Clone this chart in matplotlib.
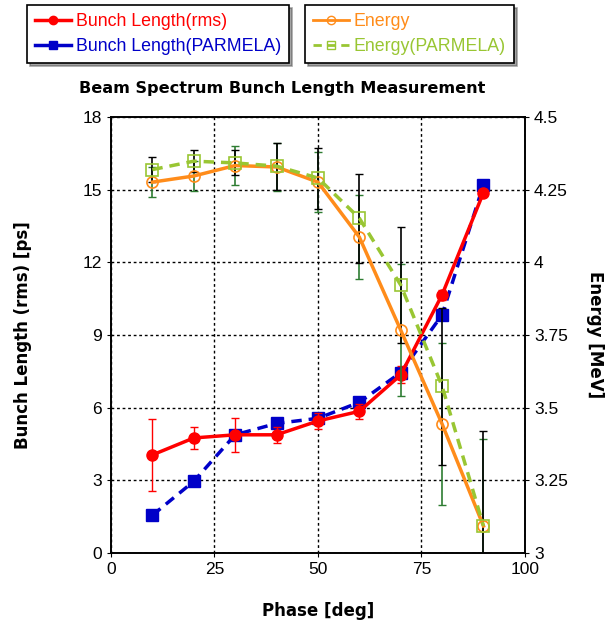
import numpy as np
import matplotlib
matplotlib.use("Agg")
import matplotlib.pyplot as plt
from matplotlib.lines import Line2D

phase = [10, 20, 30, 40, 50, 60, 70, 80, 90]

bunch_rms = [4.05, 4.75, 4.88, 4.88, 5.45, 5.85, 7.35, 10.66, 14.88]
bunch_rms_err = [1.49, 0.45, 0.7, 0.33, 0.35, 0.3, 0.35, 0.2, 0.15]
bunch_parmela = [1.56, 2.96, 4.88, 5.35, 5.56, 6.22, 7.45, 9.83, 15.2]

energy = [4.276, 4.297, 4.333, 4.328, 4.276, 4.087, 3.767, 3.444, 3.093]
energy_err = [0.052, 0.052, 0.067, 0.082, 0.103, 0.144, 0.227, 0.28, 0.30]
energy_parmela = [4.319, 4.348, 4.342, 4.331, 4.29, 4.152, 3.922, 3.574, 3.093]
energy_parmela_err = [0.043, 0.038, 0.043, 0.081, 0.105, 0.153, 0.201, 0.27, 0.327]

RED = '#ff0000'
BLUE = '#0000c8'
ORANGE = '#ff8c1a'
GREEN = '#99c633'
DKGREEN = '#2e7d32'

plt.rcParams['font.family'] = ['Liberation Sans', 'DejaVu Sans']

fig = plt.figure(figsize=(6.11, 6.30), dpi=100)
ax1 = fig.add_axes([0.1817, 0.1222, 0.859 - 0.1817, 0.8143 - 0.1222])
ax2 = ax1.twinx()

# bunch length (left axis)
ax1.plot(phase, bunch_parmela, color=BLUE, lw=2.5, ls=(0, (3, 2)), marker='s',
         ms=8, zorder=3)
ax1.errorbar(phase, bunch_rms, yerr=bunch_rms_err, color=RED, lw=2.5, marker='o',
             ms=8, ecolor=RED, elinewidth=1, capsize=3, zorder=4)

ax1.set_xlim(0, 100)
ax1.set_ylim(0, 18)
ax1.set_xticks(np.arange(0, 101, 25))
ax1.set_yticks(np.arange(0, 19, 3))
ax1.grid(True, color='black', ls=(0, (2, 2)), lw=1)
ax1.tick_params(labelsize=12.5, direction='out', length=3)

# energy (right axis)
ax2.errorbar(phase, energy, yerr=energy_err, fmt='none', ecolor=DKGREEN,
             elinewidth=1.2, capsize=3, zorder=2)
ax2.errorbar(phase, energy_parmela, yerr=energy_parmela_err, fmt='none',
             ecolor='black', elinewidth=1.2, capsize=3, zorder=2)
ax2.plot(phase, energy, color=ORANGE, lw=2.5, marker='o', ms=8, mfc='none',
         mec=ORANGE, mew=1.2, zorder=3)
ax2.plot(phase, energy_parmela, color=GREEN, lw=2.5, ls=(0, (3, 2)), marker='s',
         ms=8, mfc='none', mec=GREEN, mew=1.2, zorder=4)
ax2.set_ylim(3, 4.5)
ax2.set_yticks([3, 3.25, 3.5, 3.75, 4, 4.25, 4.5])
ax2.set_yticklabels(['3', '3.25', '3.5', '3.75', '4', '4.25', '4.5'])
ax2.tick_params(labelsize=12.5, direction='out', length=3)

for a in (ax1, ax2):
    for s in a.spines.values():
        s.set_linewidth(1.2)

ax1.set_xlabel('Phase [deg]', fontsize=12, fontweight='bold', family='DejaVu Sans', labelpad=18)
ax1.set_ylabel('Bunch Length (rms) [ps]', fontsize=12, fontweight='bold', family='DejaVu Sans', labelpad=36)
ax2.set_ylabel('Energy [MeV]', fontsize=12, fontweight='bold', family='DejaVu Sans',
               rotation=270, labelpad=26)

fig.text(282 / 611, 1 - 88 / 630, 'Beam Spectrum Bunch Length Measurement',
         ha='center', va='center', fontsize=11.6, fontweight='bold', family='DejaVu Sans')

h1 = [Line2D([], [], color=RED, lw=2.5, marker='o', ms=6),
      Line2D([], [], color=BLUE, lw=2.5, marker='s', ms=6)]
h2 = [Line2D([], [], color=ORANGE, lw=2, marker='o', ms=6, mfc='none'),
      Line2D([], [], color=GREEN, lw=2, ls=(0, (3, 2)), marker='s', ms=6, mfc='none')]

common = dict(loc='upper left', fontsize=12.8, labelcolor='linecolor', frameon=True,
              fancybox=False, shadow=True, edgecolor='black', framealpha=1,
              borderaxespad=0, handlelength=2.0, handletextpad=0.3,
              labelspacing=0.45, borderpad=0.45)
leg1 = fig.legend(h1, ['Bunch Length(rms)', 'Bunch Length(PARMELA)'],
                  bbox_to_anchor=(27 / 611, 1 - 5 / 630), **common)
leg2 = fig.legend(h2, ['Energy', 'Energy(PARMELA)'],
                  bbox_to_anchor=(305 / 611, 1 - 5 / 630), **common)
for lg in (leg1, leg2):
    lg.get_frame().set_linewidth(1.2)

fig.savefig('out.png', dpi=100)
